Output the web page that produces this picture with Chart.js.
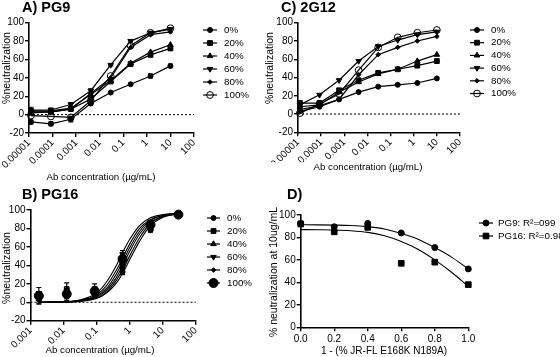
<!DOCTYPE html>
<html>
<head>
<meta charset="utf-8">
<script src="https://cdn.jsdelivr.net/npm/chart.js@4.4.0/dist/chart.umd.min.js"></script>
<style>
  body { margin: 0; background: #fff; }
  #wrap { position: relative; width: 560px; height: 357px; }
  canvas { position: absolute; left: 0; top: 0; }
</style>
</head>
<body>
<div id="wrap">
  <canvas id="chartA" width="560" height="357"></canvas>
  <canvas id="chartC" width="560" height="357"></canvas>
  <canvas id="chartB" width="560" height="357"></canvas>
  <canvas id="chartD" width="560" height="357"></canvas>
</div>
<script>
// ---- data ----
const groups = ['0%', '20%', '40%', '60%', '80%', '100%'];

// 7-fold dilutions (ug/mL)
const concAC = [0.0000121, 0.000085, 0.000595, 0.00417, 0.0292, 0.204, 1.43, 10];
const concB = [0.00179, 0.0125, 0.0875, 0.612, 4.29, 30];
const ticksAC = [0.00001, 0.0001, 0.001, 0.01, 0.1, 1, 10, 100];
const ticksB = [0.001, 0.01, 0.1, 1, 10, 100];

// A) PG9
const pg9_0 = [-8, -10, -5, 12, 24, 33, 42, 53];
const pg9_20 = [2, 3, 6, 17, 36, 55, 65, 72];
const pg9_40 = [4, 4, 7, 22, 37, 56, 68, 76];
const pg9_60 = [5, 5, 11, 26, 54, 80, 89, 93];
const pg9_80 = [3, 3, 6, 23, 40, 73, 87, 90];
const pg9_100 = [-1, -2, -3, 15, 42, 75, 89, 94];
const pg9Err0 = [2, 2, 3, 1, 1, 1, 2, 2];
const pg9Err60 = [3, 2, 2, 2, 1, 1, 1, 1];

// C) 2G12
const g12_0 = [3, 8, 16, 24, 30, 32, 34, 39];
const g12_20 = [12, 12, 26, 37, 45, 49, 53, 58];
const g12_40 = [8, 10, 24, 35, 44, 49, 58, 65];
const g12_60 = [10, 21, 37, 58, 74, 81, 87, 90];
const g12_80 = [5, 9, 16, 43, 65, 73, 80, 85];
const g12_100 = [1, 11, 22, 48, 73, 84, 89, 92];

// B) PG16 points + error
const pg16_0 = [3, 8, 9, 33, 78, 95];
const pg16_20 = [6, 12, 10, 40, 80, 95];
const pg16_40 = [5, 10, 11, 44, 82, 94];
const pg16_60 = [10, 14, 15, 52, 87, 95];
const pg16_80 = [2, 6, 8, 36, 79, 95];
const pg16_100 = [7, 9, 12, 47, 84, 95];
const pg16Err0 = [4, 4, 3, 3, 2, 1];
const pg16Err20 = [3, 5, 3, 3, 2, 1];
const pg16Err40 = [3, 4, 3, 3, 2, 1];
const pg16Err60 = [6, 7, 5, 4, 2, 1];
const pg16Err80 = [4, 4, 3, 3, 2, 1];
const pg16Err100 = [3, 3, 3, 3, 2, 2];
// B) fitted curves, read at these concentrations
const fitConcB = [0.00179, 0.005, 0.01, 0.03, 0.1, 0.2, 0.4, 0.7, 1, 2, 4, 10, 30];
const fit16_0 = [0, 0.1, 0.2, 0.9, 4, 10, 21, 35, 46, 66, 82, 92, 96];
const fit16_20 = [0, 0.1, 0.3, 1.3, 6, 13, 27, 44, 55, 74, 86, 93, 96];
const fit16_40 = [0, 0.1, 0.4, 1.5, 7, 15, 31, 48, 59, 77, 88, 94, 96];
const fit16_60 = [0, 0.2, 0.6, 2.3, 10, 22, 40, 58, 68, 83, 91, 95, 96.5];
const fit16_80 = [0, 0.1, 0.3, 1.1, 5, 11, 24, 39, 50, 70, 84, 93, 96];
const fit16_100 = [0, 0.2, 0.5, 1.9, 8, 18, 35, 52, 63, 80, 89, 94, 96.4];

// D) neutralization at 10 ug/mL
const fracD = [0, 0.2, 0.4, 0.6, 0.8, 1.0];
const dPG9 = [92.5, 89.5, 92.5, 84, 71, 52];
const dPG16 = [92, 85, 89, 57, 58, 38];
const fitFracD = [0, 0.1, 0.2, 0.3, 0.4, 0.5, 0.6, 0.7, 0.8, 0.9, 1.0];
const fitPG9 = [91.3, 91.2, 91, 90.6, 89.5, 87.5, 83.5, 78.5, 71, 62.5, 52];
const fitPG16 = [87, 86.9, 86.7, 86, 84.5, 81.5, 76.5, 69.5, 60, 49, 36.5];
const legendD = ['PG9: R\u00b2=099', 'PG16: R\u00b2=0.98'];

// ---- styles ----
const FONT = "'Liberation Sans', Arial, sans-serif";
const markers = [
  { pointStyle: 'circle', radius: 2.5, fill: '#000' },
  { pointStyle: 'rect', radius: 3.4, fill: '#000' },
  { pointStyle: 'triangle', radius: 3.2, fill: '#000' },
  { pointStyle: 'triangle', radius: 3.2, fill: '#000', rotation: 180 },
  { pointStyle: 'rectRot', radius: 2.3, fill: '#000' },
  { pointStyle: 'circle', radius: 3.4, fill: 'rgba(255,255,255,0)' }
];
const markersB = markers.map((m, i) => i === 5 ? { pointStyle: 'circle', radius: 4.5, fill: '#000' } : m);

const pts = (xs, ys) => xs.map((x, i) => ({ x, y: ys[i] }));

function seriesSet(m, label, data, extra) {
  return Object.assign({
    label, data, legend: true,
    borderColor: '#000', borderWidth: 1.2,
    pointStyle: m.pointStyle, pointRadius: m.radius, rotation: m.rotation || 0,
    pointBackgroundColor: m.fill, pointBorderColor: '#000', pointBorderWidth: 1,
    tension: 0, clip: false
  }, extra || {});
}

function curveSet(data) {
  return { data, borderColor: '#000', borderWidth: 1.1, pointRadius: 0,
           cubicInterpolationMode: 'monotone', clip: false };
}

// ---- plugins ----
const textPlugin = {
  id: 'panelText',
  afterDraw(chart, args, opts) {
    const ctx = chart.ctx;
    (opts.items || []).forEach(it => {
      ctx.save();
      ctx.font = it.font;
      ctx.fillStyle = '#000';
      ctx.textAlign = it.align || 'center';
      ctx.textBaseline = 'middle';
      ctx.translate(it.x, it.y);
      if (it.rot) ctx.rotate(it.rot);
      ctx.fillText(it.text, 0, 0);
      ctx.restore();
    });
  }
};

const legendPlugin = {
  id: 'lineLegend',
  afterDraw(chart, args, opts) {
    if (!opts || opts.x === undefined) return;
    const ctx = chart.ctx;
    ctx.save();
    ctx.font = opts.font;
    ctx.textBaseline = 'middle';
    ctx.textAlign = 'left';
    let y = opts.y;
    chart.data.datasets.forEach(ds => {
      if (!ds.legend) return;
      ctx.strokeStyle = '#000';
      ctx.lineWidth = 1.2;
      ctx.beginPath();
      ctx.moveTo(opts.x, y);
      ctx.lineTo(opts.x + opts.len, y);
      ctx.stroke();
      ctx.fillStyle = ds.pointBackgroundColor;
      ctx.lineWidth = 1;
      Chart.helpers.drawPoint(ctx, { pointStyle: ds.pointStyle, radius: ds.pointRadius,
        rotation: ds.rotation || 0, borderWidth: 1 }, opts.x + opts.len / 2, y);
      ctx.fillStyle = '#000';
      ctx.fillText(ds.label, opts.x + opts.len + opts.gap, y);
      y += opts.step;
    });
    ctx.restore();
  }
};

const zeroPlugin = {
  id: 'zeroLine',
  beforeDatasetsDraw(chart, args, opts) {
    if (!opts.show) return;
    const { ctx, chartArea } = chart;
    const y = chart.scales.y.getPixelForValue(0);
    ctx.save();
    ctx.setLineDash([2, 2]);
    ctx.lineWidth = 1;
    ctx.strokeStyle = '#000';
    ctx.beginPath();
    ctx.moveTo(chartArea.left, y);
    ctx.lineTo(chartArea.right, y);
    ctx.stroke();
    ctx.restore();
  }
};

const errPlugin = {
  id: 'errBars',
  afterDatasetsDraw(chart) {
    const ctx = chart.ctx, xs = chart.scales.x, ys = chart.scales.y;
    ctx.save();
    ctx.strokeStyle = '#000';
    ctx.lineWidth = 1.2;
    chart.data.datasets.forEach(ds => {
      if (!ds.errors) return;
      ds.data.forEach((p, i) => {
        const e = ds.errors[i];
        if (!e) return;
        const x = xs.getPixelForValue(p.x);
        const y1 = ys.getPixelForValue(p.y + e), y2 = ys.getPixelForValue(p.y - e);
        ctx.beginPath();
        ctx.moveTo(x, y1); ctx.lineTo(x, y2);
        ctx.moveTo(x - 2.5, y1); ctx.lineTo(x + 2.5, y1);
        ctx.moveTo(x - 2.5, y2); ctx.lineTo(x + 2.5, y2);
        ctx.stroke();
      });
    });
    ctx.restore();
  }
};

// ---- scales ----
const YW = 26;
const TICK_FONT = { family: FONT, size: 10 };
const axisBase = () => ({
  border: { display: true, color: '#000', width: 1.6 },
  grid: { display: true, drawOnChartArea: false, drawTicks: true, tickLength: 4, color: '#000', lineWidth: 1.4 }
});

function logX(min, max, tickVals, xh) {
  return Object.assign(axisBase(), {
    type: 'logarithmic', position: 'bottom', min, max,
    ticks: { color: '#000', font: TICK_FONT, padding: 0, autoSkip: false,
             minRotation: 45, maxRotation: 45, callback: v => String(v) },
    afterBuildTicks: s => { s.ticks = tickVals.map(v => ({ value: v })); },
    afterFit: s => { s.height = xh; s.paddingLeft = 0; s.paddingRight = 0; }
  });
}

function linX(min, max, step, xh) {
  return Object.assign(axisBase(), {
    type: 'linear', position: 'bottom', min, max,
    ticks: { color: '#000', font: TICK_FONT, padding: 2, stepSize: step,
             maxRotation: 0, callback: v => v.toFixed(1) },
    afterFit: s => { s.height = xh; s.paddingLeft = 0; s.paddingRight = 0; }
  });
}

function linY(min, max) {
  return Object.assign(axisBase(), {
    type: 'linear', min, max,
    ticks: { color: '#000', font: TICK_FONT, padding: 1, stepSize: 20 },
    afterFit: s => { s.width = YW; s.paddingTop = 0; s.paddingBottom = 0; }
  });
}

function panel(id, area, scales, datasets, texts, legend, zero) {
  const xh = area.xh;
  new Chart(document.getElementById(id), {
    type: 'line',
    data: { datasets },
    options: {
      responsive: false,
      animation: false,
      events: [],
      layout: { padding: { left: area.l - YW, top: area.t, right: 560 - area.r, bottom: 357 - area.b - xh } },
      scales,
      plugins: {
        legend: { display: false },
        tooltip: { enabled: false },
        panelText: { items: texts },
        lineLegend: legend,
        zeroLine: { show: zero }
      }
    },
    plugins: [zeroPlugin, errPlugin, textPlugin, legendPlugin]
  });
}

const titleFont = 'bold 14.5px ' + FONT;
const axisFont = '9.7px ' + FONT;
const yFont = '10.5px ' + FONT;
const legFont = '9.8px ' + FONT;
const xTitle = 'Ab concentration (\u00b5g/mL)';

// A) PG9
const areaA = { l: 29, t: 22.7, r: 194, b: 133, xh: 36 };
const setsA = [pg9_0, pg9_20, pg9_40, pg9_60, pg9_80, pg9_100].map((v, i) =>
  seriesSet(markers[i], groups[i], pts(concAC, v),
    i === 0 ? { errors: pg9Err0 } : (i === 3 ? { errors: pg9Err60 } : {})));
panel('chartA', areaA,
  { x: logX(0.00001, 100, ticksAC, areaA.xh), y: linY(-20, 100) }, setsA,
  [{ text: 'A) PG9', x: 22, y: 8, font: titleFont, align: 'left' },
   { text: '%neutralization', x: 7, y: 68, rot: -Math.PI / 2, font: yFont },
   { text: xTitle, x: 101, y: 177, font: axisFont }],
  { x: 203, y: 30, len: 14, gap: 7, step: 13, font: legFont }, true);

// C) 2G12
const areaC = { l: 298, t: 22.7, r: 460, b: 132.3, xh: 30 };
const setsC = [g12_0, g12_20, g12_40, g12_60, g12_80, g12_100].map((v, i) =>
  seriesSet(markers[i], groups[i], pts(concAC, v)));
panel('chartC', areaC,
  { x: logX(0.00001, 100, ticksAC, areaC.xh), y: linY(-20, 100) }, setsC,
  [{ text: 'C) 2G12', x: 281, y: 8, font: titleFont, align: 'left' },
   { text: '%neutralization', x: 270, y: 68, rot: -Math.PI / 2, font: yFont },
   { text: xTitle, x: 368, y: 167, font: axisFont }],
  { x: 470, y: 30, len: 14, gap: 7, step: 12.7, font: legFont }, true);

// B) PG16
const areaB = { l: 30.5, t: 210, r: 195.7, b: 320.7, xh: 30 };
const fitsB = [fit16_0, fit16_20, fit16_40, fit16_60, fit16_80, fit16_100].map(v => curveSet(pts(fitConcB, v)));
const errsB = [pg16Err0, pg16Err20, pg16Err40, pg16Err60, pg16Err80, pg16Err100];
const setsB = [pg16_0, pg16_20, pg16_40, pg16_60, pg16_80, pg16_100].map((v, i) =>
  seriesSet(markersB[i], groups[i], pts(concB, v), { showLine: false, errors: errsB[i] }));
panel('chartB', areaB,
  { x: logX(0.001, 100, ticksB, areaB.xh), y: linY(-20, 100) }, fitsB.concat(setsB),
  [{ text: 'B) PG16', x: 22, y: 195, font: titleFont, align: 'left' },
   { text: '%neutralization', x: 7, y: 268, rot: -Math.PI / 2, font: yFont },
   { text: xTitle, x: 100, y: 350, font: axisFont }],
  { x: 207, y: 218, len: 13, gap: 7, step: 13, font: legFont }, true);

// D)
const areaD = { l: 300.7, t: 215, r: 468.3, b: 327.3, xh: 20 };
const setsD = [
  curveSet(pts(fitFracD, fitPG9)),
  curveSet(pts(fitFracD, fitPG16)),
  seriesSet({ pointStyle: 'circle', radius: 3, fill: '#000' }, legendD[0], pts(fracD, dPG9), { showLine: false }),
  seriesSet({ pointStyle: 'rect', radius: 4, fill: '#000' }, legendD[1], pts(fracD, dPG16), { showLine: false })
];
panel('chartD', areaD,
  { x: linX(0, 1, 0.2, areaD.xh), y: linY(0, 100) }, setsD,
  [{ text: 'D)', x: 287, y: 195, font: titleFont, align: 'left' },
   { text: '% neutralization at 10ug/mL', x: 274, y: 272, rot: -Math.PI / 2, font: yFont },
   { text: '1 - (% JR-FL E168K N189A)', x: 384, y: 351, font: '10px ' + FONT }],
  { x: 479, y: 223, len: 14, gap: 5, step: 13, font: legFont }, false);
</script>
</body>
</html>
